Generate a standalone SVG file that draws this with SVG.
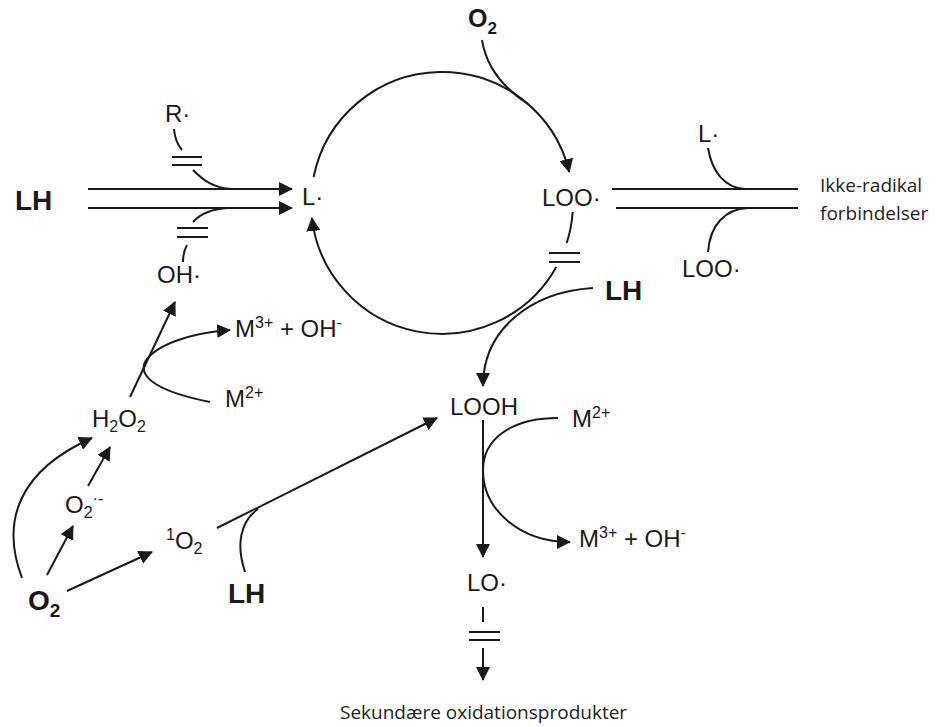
<svg xmlns="http://www.w3.org/2000/svg" width="946" height="727" viewBox="0 0 946 727">
<style>
.l{font-family:"Liberation Sans",Arial,sans-serif;font-size:24px;fill:#1a1a1a}
.b{font-family:"Liberation Sans",Arial,sans-serif;font-size:28px;font-weight:bold;fill:#1a1a1a}
.n{font-family:"Open Sans","Noto Sans",sans-serif;font-size:19px;fill:#222}
.s{font-size:16px}
.c{fill:none;stroke:#1a1a1a;stroke-width:2}
.a{marker-end:url(#ah)}
</style>
<defs>
<marker id="ah" viewBox="0 0 14 14" refX="13" refY="7" markerWidth="14" markerHeight="14" markerUnits="userSpaceOnUse" orient="auto">
<path d="M0,0 L14,7 L0,14 z" fill="#1a1a1a"/>
</marker>
</defs>
<rect width="946" height="727" fill="#fff"/>
<g id="connectors">
<path class="c a" d="M313.6 177 A131 131 0 0 1 569.3 172"/>
<path class="c" d="M482 40 Q488 78 528 104"/>
<path class="c" d="M572.7 212 A131 131 0 0 1 566.7 243"/>
<path class="c" d="M549 253 H580 M549 262 H580"/>
<path class="c a" d="M556.3 267 A131 131 0 0 1 311.9 218"/>
<path class="c a" d="M593 288 C530 292 483 330 483 386"/>
<path class="c a" d="M88 189 H292"/>
<path class="c a" d="M88 208 H292"/>
<path class="c" d="M174 129 Q175 142 182 150"/>
<path class="c" d="M172 157 H202 M172 165 H202"/>
<path class="c" d="M193 170 C203 180 213 188 232 189"/>
<path class="c" d="M228 208 C212 209 200 214 193 222"/>
<path class="c" d="M177 228 H208 M177 237 H208"/>
<path class="c" d="M187 245 Q183 252 183 262"/>
<path class="c" d="M612 189 H798 M616 208 H798"/>
<path class="c" d="M708 148 C712 172 725 188 745 189"/>
<path class="c" d="M708 252 C710 225 725 209 748 208"/>
<path class="c a" d="M130 397 L175 302"/>
<path class="c a" d="M210 402 C160 392 138 378 145 362 C155 345 190 333 230 330"/>
<path class="c a" d="M22 578 C0 520 20 470 92 438"/>
<path class="c a" d="M88 486 L110 447"/>
<path class="c a" d="M47 575 L73 526"/>
<path class="c a" d="M67 591 L152 552"/>
<path class="c a" d="M217 528 L437 418"/>
<path class="c" d="M245 572 C236 545 240 522 258 509"/>
<path class="c a" d="M483 420 L483 557"/>
<path class="c a" d="M558 418 C510 418 483 440 483 470 C483 510 520 542 570 542"/>
<path class="c" d="M483 607 L483 622"/>
<path class="c" d="M469 632 H500 M469 640 H500"/>
<path class="c a" d="M483 648 L483 680"/>
</g>
<g id="O2-top"><text class="b" x="468" y="27" style="font-size:25px">O<tspan style="font-size:17px" dy="7">2</tspan></text></g>
<g id="L-radical"><text class="l" x="302" y="205">L·</text></g>
<g id="LOO-radical"><text class="l" x="542" y="206">LOO·</text></g>
<g id="LH-left"><text class="b" x="15" y="210">LH</text></g>
<g id="R-radical"><text class="l" x="165" y="122">R·</text></g>
<g id="OH-radical"><text class="l" x="157" y="283">OH·</text></g>
<g id="L-radical-2"><text class="l" x="698" y="142">L·</text></g>
<g id="LOO-radical-2"><text class="l" x="682" y="277">LOO·</text></g>
<g id="non-radical"><text class="n" x="820" y="192">Ikke-radikal</text><text class="n" x="820" y="220">forbindelser</text></g>
<g id="LH-right"><text class="b" x="605" y="300">LH</text></g>
<g id="M3-OH-left"><text class="l" x="235" y="337">M<tspan class="s" dy="-9">3+</tspan><tspan dy="9"> + OH</tspan><tspan class="s" dy="-9">-</tspan></text></g>
<g id="M2-left"><text class="l" x="225" y="407">M<tspan class="s" dy="-9">2+</tspan></text></g>
<g id="H2O2"><text class="l" x="92" y="427">H<tspan class="s" dy="5">2</tspan><tspan dy="-5">O</tspan><tspan class="s" dy="5">2</tspan></text></g>
<g id="O2-superoxide"><text class="l" x="65" y="513">O<tspan class="s" dy="5">2</tspan><tspan class="s" dy="-14">·-</tspan></text></g>
<g id="singlet-O2"><text class="l" x="166" y="549"><tspan class="s" dy="-9">1</tspan><tspan dy="9">O</tspan><tspan class="s" dy="5">2</tspan></text></g>
<g id="O2-bottom"><text class="b" x="28" y="610">O<tspan style="font-size:19px" dy="7">2</tspan></text></g>
<g id="LH-bottom"><text class="b" x="228" y="603">LH</text></g>
<g id="LOOH"><text class="l" x="450" y="415">LOOH</text></g>
<g id="M2-right"><text class="l" x="572" y="427">M<tspan class="s" dy="-9">2+</tspan></text></g>
<g id="M3-OH-right"><text class="l" x="579" y="547">M<tspan class="s" dy="-9">3+</tspan><tspan dy="9"> + OH</tspan><tspan class="s" dy="-9">-</tspan></text></g>
<g id="LO-radical"><text class="l" x="467" y="591">LO·</text></g>
<g id="secondary"><text class="n" x="340" y="719">Sekundære oxidationsprodukter</text></g>
</svg>
